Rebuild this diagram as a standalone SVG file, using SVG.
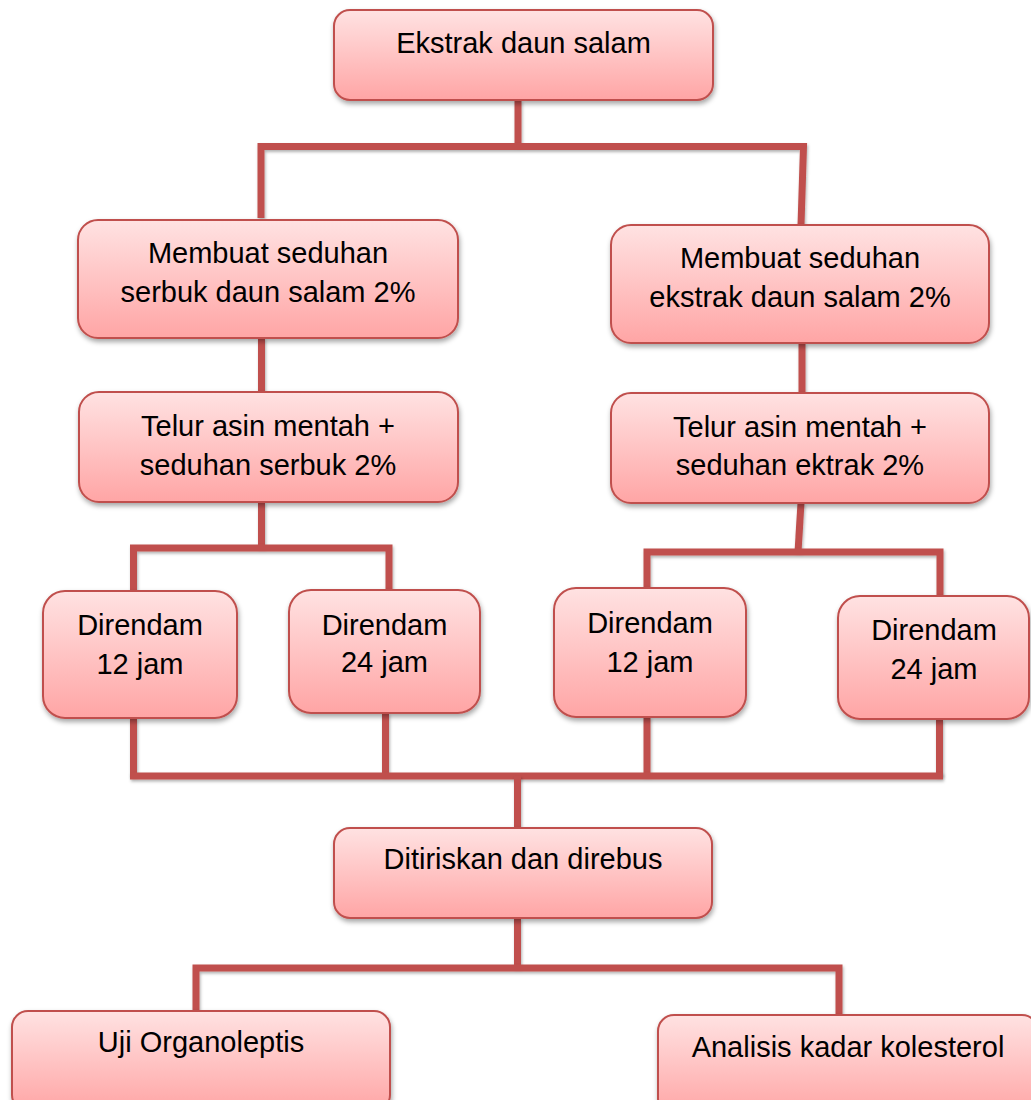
<svg xmlns="http://www.w3.org/2000/svg" width="1031" height="1100" viewBox="0 0 1031 1100">
<defs>
<linearGradient id="g" x1="0" y1="0" x2="0" y2="1">
<stop offset="0" stop-color="#FFE2E2"/>
<stop offset="0.35" stop-color="#FFCDCD"/>
<stop offset="1" stop-color="#FFA5A5"/>
</linearGradient>
<filter id="sh" x="-10%" y="-10%" width="130%" height="140%">
<feDropShadow dx="1" dy="3" stdDeviation="2.5" flood-color="#000" flood-opacity="0.35"/>
</filter>
<filter id="lsh" filterUnits="userSpaceOnUse" x="0" y="0" width="1031" height="1100">
<feDropShadow dx="1" dy="2" stdDeviation="1.5" flood-color="#000" flood-opacity="0.3"/>
</filter>
</defs>
<style>
.box{fill:url(#g);stroke:#C0504D;stroke-width:2;filter:url(#sh)}
.t{font-family:"Liberation Sans",Arial,sans-serif;font-size:29px;fill:#000;text-anchor:middle}
.c{fill:none;stroke:#C0504D;stroke-width:7;stroke-linecap:butt;stroke-linejoin:miter;filter:url(#lsh)}
</style>
<g id="connectors">
<path class="c" d="M518,100 V146"/>
<path class="c" d="M261,218 V146.5 H803.5 L801,225"/>
<path class="c" d="M261.5,338 V392"/>
<path class="c" d="M802,343 V393"/>
<path class="c" d="M261.5,502 V548"/>
<path class="c" d="M133.5,591 V548 H389 V590"/>
<path class="c" d="M801,503 L798,552"/>
<path class="c" d="M647,590 V552 H940 V596"/>
<path class="c" d="M133.5,718 V776"/>
<path class="c" d="M385.5,713 V776"/>
<path class="c" d="M647,717 V776"/>
<path class="c" d="M939.5,719 V776"/>
<path class="c" d="M130,776 H943"/>
<path class="c" d="M517.5,776 V828"/>
<path class="c" d="M517.5,918 V968"/>
<path class="c" d="M196,1012 V968 H839 V1016"/>
</g>
<g id="n1"><rect class="box" x="334" y="10" width="379" height="90" rx="16"/><text class="t" x="523.5" y="53">Ekstrak daun salam</text></g>
<g id="n2"><rect class="box" x="78" y="220" width="380" height="118" rx="20"/><text class="t" x="268" y="263">Membuat seduhan</text><text class="t" x="268" y="302">serbuk daun salam 2%</text></g>
<g id="n3"><rect class="box" x="611" y="225" width="378" height="118" rx="20"/><text class="t" x="800" y="268">Membuat seduhan</text><text class="t" x="800" y="307">ekstrak daun salam 2%</text></g>
<g id="n4"><rect class="box" x="79" y="392" width="379" height="110" rx="20"/><text class="t" x="268" y="436">Telur asin mentah +</text><text class="t" x="268" y="475">seduhan serbuk 2%</text></g>
<g id="n5"><rect class="box" x="611" y="393" width="378" height="110" rx="20"/><text class="t" x="800" y="437">Telur asin mentah +</text><text class="t" x="800" y="475">seduhan ektrak 2%</text></g>
<g id="n6"><rect class="box" x="43" y="591" width="194" height="127" rx="22"/><text class="t" x="140" y="635">Direndam</text><text class="t" x="140" y="674">12 jam</text></g>
<g id="n7"><rect class="box" x="289" y="590" width="191" height="123" rx="22"/><text class="t" x="384.5" y="635">Direndam</text><text class="t" x="384.5" y="672">24 jam</text></g>
<g id="n8"><rect class="box" x="554" y="588" width="192" height="129" rx="22"/><text class="t" x="650" y="633">Direndam</text><text class="t" x="650" y="672">12 jam</text></g>
<g id="n9"><rect class="box" x="838" y="596" width="191" height="123" rx="22"/><text class="t" x="934" y="640">Direndam</text><text class="t" x="934" y="679">24 jam</text></g>
<g id="n10"><rect class="box" x="334" y="828" width="378" height="90" rx="16"/><text class="t" x="523" y="869">Ditiriskan dan direbus</text></g>
<g id="n11"><rect class="box" x="12" y="1011" width="378" height="100" rx="16"/><text class="t" x="201" y="1052">Uji Organoleptis</text></g>
<g id="n12"><rect class="box" x="658" y="1015" width="380" height="100" rx="16"/><text class="t" x="848" y="1057">Analisis kadar kolesterol</text></g>
</svg>
